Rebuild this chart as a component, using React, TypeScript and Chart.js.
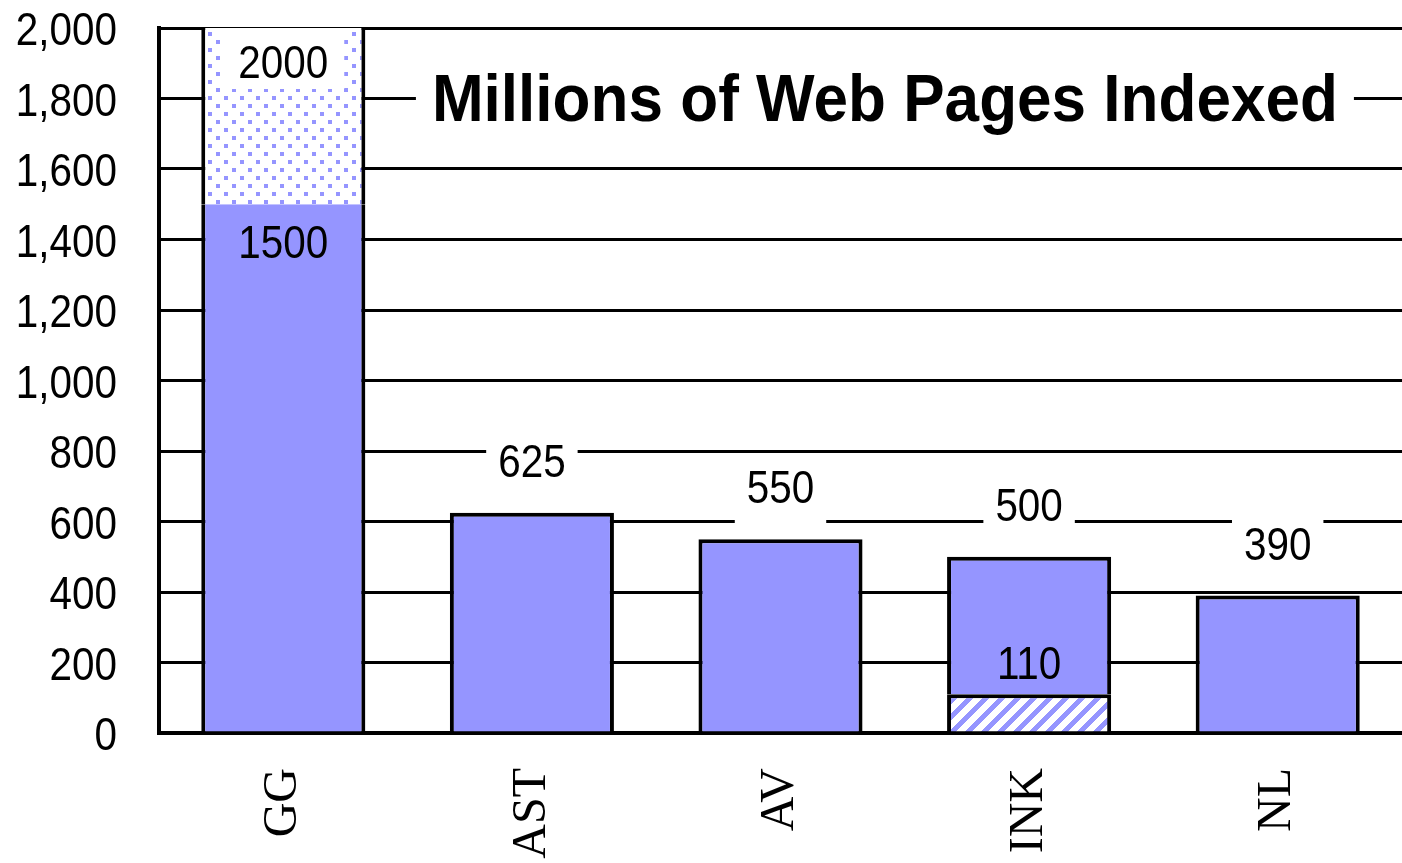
import React, { useEffect, useRef } from 'react';
import { Chart, registerables } from 'chart.js';

Chart.register(...registerables);

const categories = ['GG', 'AST', 'AV', 'INK', 'NL'];
const indexedPages = [1500, 625, 550, 500, 390];
const claimedPages: (number | null)[] = [2000, null, null, null, null];
const uniquePages: (number | null)[] = [null, null, null, 110, null];
const yMin = 0;
const yMax = 2000;
const yStep = 200;
const titleText = 'Millions of Web Pages Indexed';

const BLUE = '#9595ff';
const SANS = "'Liberation Sans', Arial, sans-serif";
const SERIF = "'Liberation Serif', 'DejaVu Serif', serif";
const NUM_FONT = `47px ${SANS}`;
const NUM_SQUEEZE = 0.86;

function makeDots(): CanvasPattern | string {
  const c = document.createElement('canvas');
  c.width = 16;
  c.height = 16;
  const g = c.getContext('2d');
  if (!g) return BLUE;
  g.fillStyle = '#ffffff';
  g.fillRect(0, 0, 16, 16);
  g.fillStyle = BLUE;
  g.fillRect(0, 0, 4, 4);
  g.fillRect(8, 8, 4, 4);
  return g.createPattern(c, 'repeat') || BLUE;
}

function makeHatch(): CanvasPattern | string {
  const c = document.createElement('canvas');
  c.width = 16;
  c.height = 16;
  const g = c.getContext('2d');
  if (!g) return BLUE;
  g.fillStyle = '#ffffff';
  g.fillRect(0, 0, 16, 16);
  g.fillStyle = BLUE;
  for (let x = 0; x < 16; x++) {
    for (let y = 0; y < 16; y++) {
      if ((x + y) % 16 < 7) g.fillRect(x, y, 1, 1);
    }
  }
  return g.createPattern(c, 'repeat') || BLUE;
}

function squeezedText(
  ctx: CanvasRenderingContext2D,
  text: string,
  x: number,
  baseline: number,
  align: 'center' | 'right',
  sx: number
) {
  ctx.save();
  ctx.translate(x, baseline);
  ctx.scale(sx, 1);
  ctx.textAlign = align;
  ctx.textBaseline = 'alphabetic';
  ctx.fillText(text, 0, 0);
  ctx.restore();
}

const labelPlugin = {
  id: 'valueLabels',
  afterDraw(chart: any) {
    const ctx: CanvasRenderingContext2D = chart.ctx;
    const yScale = chart.scales.y;
    const area = chart.chartArea;
    ctx.save();
    ctx.font = NUM_FONT;
    ctx.fillStyle = '#000000';
    yScale.ticks.forEach((t: any) => {
      const py = yScale.getPixelForValue(t.value);
      const txt = Number(t.value).toLocaleString('en-US');
      squeezedText(ctx, txt, area.left - 42, py + 17, 'right', NUM_SQUEEZE);
    });
    ctx.restore();
  },
  afterDatasetsDraw(chart: any) {
    const ctx: CanvasRenderingContext2D = chart.ctx;
    const yScale = chart.scales.y;
    const area = chart.chartArea;
    const solidMeta = chart.getDatasetMeta(1);

    const drawLabel = (text: string, x: number, baseline: number, box: null | [number, number, number]) => {
      ctx.font = NUM_FONT;
      const w = ctx.measureText(text).width * NUM_SQUEEZE;
      if (box) {
        ctx.fillStyle = '#ffffff';
        ctx.fillRect(x - w / 2 - box[2], baseline - box[0], w + 2 * box[2], box[0] + box[1]);
      }
      ctx.fillStyle = '#000000';
      squeezedText(ctx, text, x, baseline, 'center', NUM_SQUEEZE);
    };

    ctx.save();
    categories.forEach((_, i) => {
      const bar = solidMeta.data[i];
      if (!bar) return;
      const x = bar.x;
      const v = indexedPages[i];
      const top = yScale.getPixelForValue(v);
      const claimed = claimedPages[i];
      if (claimed != null) {
        drawLabel(String(v), x, top + 54, null);
        const ct = yScale.getPixelForValue(claimed);
        drawLabel(String(claimed), x, ct + 50, [47, 11, 16]);
      } else {
        drawLabel(String(v), x, top - 36, [45, 20, 12]);
      }
      const uniq = uniquePages[i];
      if (uniq != null) {
        drawLabel(String(uniq), x, yScale.getPixelForValue(uniq) - 15, null);
      }
    });

    // title
    ctx.font = `bold 66px ${SANS}`;
    const tw = ctx.measureText(titleText).width;
    const targetW = 906;
    const sx = targetW / tw;
    const cx = area.left + 0.584 * (area.right - area.left);
    const baseline = yScale.getPixelForValue(1800) + 22;
    ctx.fillStyle = '#ffffff';
    ctx.fillRect(cx - targetW / 2 - 16, baseline - 60, targetW + 32, 75);
    ctx.fillStyle = '#000000';
    squeezedText(ctx, titleText, cx, baseline, 'center', sx);
    ctx.restore();
  },
};

export default function App() {
  const ref = useRef<HTMLCanvasElement | null>(null);

  useEffect(() => {
    if (!ref.current) return;
    const dots = makeDots();
    const hatch = makeHatch();

    const hatchData = uniquePages.map((u) => (u == null ? null : [0, u]));
    const solidData = indexedPages.map((v, i) => [uniquePages[i] ?? 0, v]);
    const dottedData = claimedPages.map((c, i) => (c == null ? null : [indexedPages[i], c]));

    const common = {
      borderColor: '#000000',
      borderSkipped: false,
      grouped: false,
      barPercentage: 0.66,
      categoryPercentage: 1,
    };

    const chart = new Chart(ref.current, {
      type: 'bar',
      data: {
        labels: categories,
        datasets: [
          {
            ...common,
            label: 'unique',
            data: hatchData as any,
            backgroundColor: hatch as any,
            borderWidth: { left: 4, right: 4, top: 4, bottom: 0 },
          },
          {
            ...common,
            label: 'indexed',
            data: solidData as any,
            backgroundColor: BLUE,
            borderWidth: (c: any) =>
              claimedPages[c.dataIndex] != null
                ? { left: 4, right: 4, top: 0, bottom: 0 }
                : { left: 4, right: 4, top: 4, bottom: 0 },
          },
          {
            ...common,
            label: 'claimed',
            data: dottedData as any,
            backgroundColor: dots as any,
            borderWidth: { left: 4, right: 4, top: 0, bottom: 0 },
          },
        ] as any,
      },
      options: {
        responsive: false,
        animation: false,
        layout: { padding: { top: 28, right: 0, bottom: 0, left: 0 } },
        plugins: {
          legend: { display: false },
          tooltip: { enabled: false },
          title: { display: false },
        },
        scales: {
          x: {
            offset: true,
            grid: { display: false, drawTicks: false },
            border: { display: true, color: '#000000', width: 4 },
            ticks: {
              color: '#000000',
              font: { family: SERIF, size: 48 },
              minRotation: 90,
              maxRotation: 90,
              padding: 35,
              autoSkip: false,
            },
            afterFit: (s: any) => {
              s.height = 130;
              s.paddingLeft = 0;
              s.paddingRight = 0;
            },
          },
          y: {
            min: yMin,
            max: yMax,
            grid: { color: '#000000', lineWidth: 3, drawTicks: false },
            border: { display: true, color: '#000000', width: 4 },
            ticks: {
              stepSize: yStep,
              display: false,
            },
            afterFit: (s: any) => {
              s.width = 159;
              s.paddingTop = 0;
              s.paddingBottom = 0;
            },
          },
        },
      },
      plugins: [labelPlugin],
    });
    return () => chart.destroy();
  }, []);

  return (
    <div style={{ position: 'fixed', left: 0, top: 0, width: 1402, height: 863, background: '#ffffff' }}>
      <canvas ref={ref} width={1402} height={863} style={{ display: 'block' }} />
    </div>
  );
}
